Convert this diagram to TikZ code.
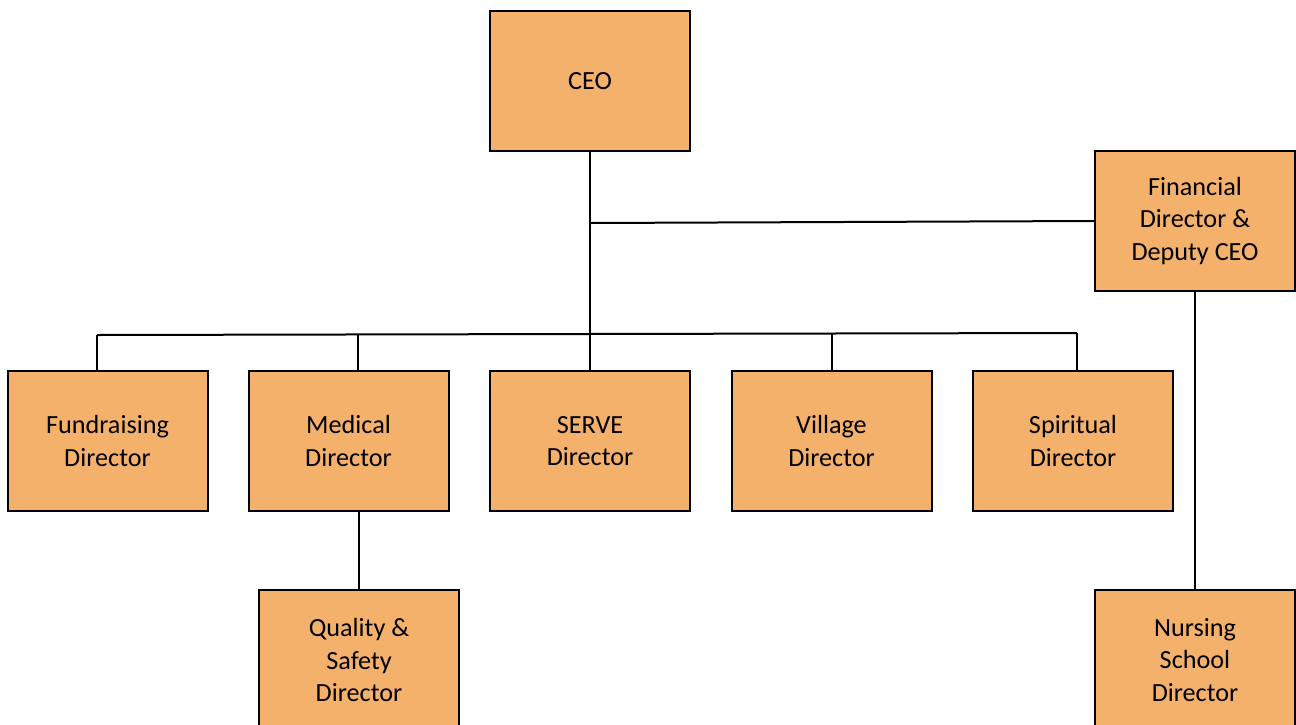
\documentclass[tikz,border=0pt]{standalone}
\usepackage{fontspec}
\setmainfont{Carlito}
\newlength{\du}
\setlength{\du}{0.5pt}
\definecolor{boxfill}{rgb}{0.957, 0.694, 0.424}
\tikzset{
  orgbox/.style={draw=black, fill=boxfill, line width=2\du, rectangle,
    minimum width=200\du, minimum height=140\du, align=center,
    font=\fontsize{13.1}{16.2}\selectfont, inner sep=0pt},
  orgline/.style={draw=black, line width=2\du}
}
\begin{document}
\begin{tikzpicture}[x=\du, y=-\du]
\useasboundingbox (0,0) rectangle (1296,724);
% boxes
\node[orgbox] (ceo) at (590,81) {CEO};
\node[orgbox] (fin) at (1195,221) {Financial\\Director \&\\Deputy CEO};
\node[orgbox] (fund) at (107.5,441) {Fundraising\\Director};
\node[orgbox] (med) at (348.5,441) {Medical\\Director};
\node[orgbox] (serve) at (590,441) {SERVE\\Director};
\node[orgbox] (vil) at (831.5,441) {Village\\Director};
\node[orgbox] (spir) at (1073,441) {Spiritual\\Director};
\node[orgbox] (qual) at (359,660) {Quality \&\\Safety\\Director};
\node[orgbox] (nurs) at (1195,660) {Nursing\\School\\Director};
% bus points
\coordinate (tee) at (590,223);
\coordinate (busF) at (97,335);
\coordinate (busM) at (358,334);
\coordinate (busC) at (590,334);
\coordinate (busV) at (832,333);
\coordinate (busS) at (1077,333);
% lines
\draw[orgline] (ceo.south) -- (busC);
\draw[orgline] (tee) -- (fin.west);
\draw[orgline] (busF) -- (busS);
\draw[orgline] (busF) -- (busF |- fund.north);
\draw[orgline] (busM) -- (busM |- med.north);
\draw[orgline] (busC) -- (serve.north);
\draw[orgline] (busV) -- (busV |- vil.north);
\draw[orgline] (busS) -- (busS |- spir.north);
\draw[orgline] (qual.north) -- (qual.north |- med.south);
\draw[orgline] (fin.south) -- (nurs.north);
\end{tikzpicture}
\end{document}
